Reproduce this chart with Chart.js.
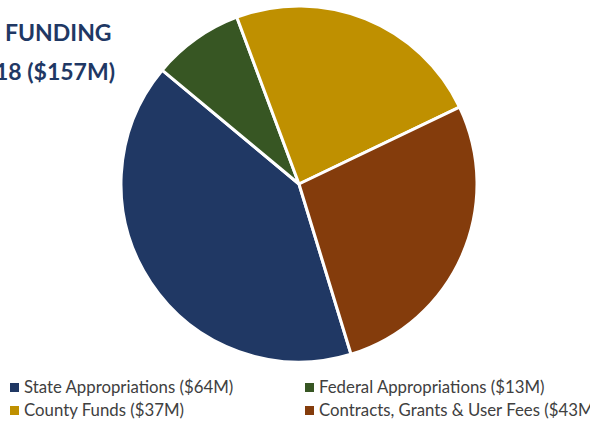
<!DOCTYPE html>
<html>
<head>
<meta charset="utf-8">
<script src="https://cdn.jsdelivr.net/npm/chart.js@4"></script>
<style>
  html, body { margin: 0; padding: 0; background: #fff; }
  #wrap { position: relative; width: 590px; height: 425px; overflow: hidden; font-family: Lato, "Open Sans", sans-serif; }
  #pieBox { position: absolute; left: 119px; top: 4px; width: 360px; height: 360px; }
  .title { position: absolute; font-weight: bold; font-size: 23px; color: #1f3864; white-space: nowrap; }
  .leg { position: absolute; font-size: 16.8px; color: #404040; white-space: nowrap; }
  .leg span { display: inline-block; width: 9px; height: 9px; margin-right: 5px; vertical-align: 1px; }
</style>
</head>
<body>
<div id="wrap">
  <div class="title" id="t1" style="left:5px; top:18px;"></div>
  <div class="title" id="t2" style="right:475px; top:57px;"></div>
  <div id="pieBox"><canvas id="pieChart"></canvas></div>
  <div id="legend"></div>
</div>
<script>
const titleLines = ['FUNDING', '18 ($157M)'];

const categories = ['State Appropriations', 'Federal Appropriations', 'County Funds', 'Contracts, Grants & User Fees'];
const amounts = [64, 13, 37, 43];  // $M
const colors = ['#203864', '#375623', '#bf9000', '#843c0c'];

document.getElementById('t1').textContent = titleLines[0];
document.getElementById('t2').textContent = titleLines[1];

// two column legend, same order as slices
const legendPos = [[10, 376], [305, 376], [10, 399], [305, 399]];
const legend = document.getElementById('legend');
categories.forEach((name, i) => {
  const d = document.createElement('div');
  d.className = 'leg';
  d.style.left = legendPos[i][0] + 'px';
  d.style.top = legendPos[i][1] + 'px';
  d.innerHTML = `<span style="background:${colors[i]}"></span>` + `${name} ($${amounts[i]}M)`.replace(/&/g, '&amp;');
  legend.appendChild(d);
});

const ctx = document.getElementById('pieChart').getContext('2d');
new Chart(ctx, {
  type: 'pie',
  data: {
    labels: categories,
    datasets: [{
      data: amounts,
      backgroundColor: colors,
      borderColor: '#ffffff',
      borderWidth: 3
    }]
  },
  options: {
    responsive: true,
    maintainAspectRatio: false,
    animation: false,
    rotation: 163,
    radius: 178,
    plugins: {
      legend: { display: false },
      tooltip: { enabled: false }
    }
  }
});
</script>
</body>
</html>
